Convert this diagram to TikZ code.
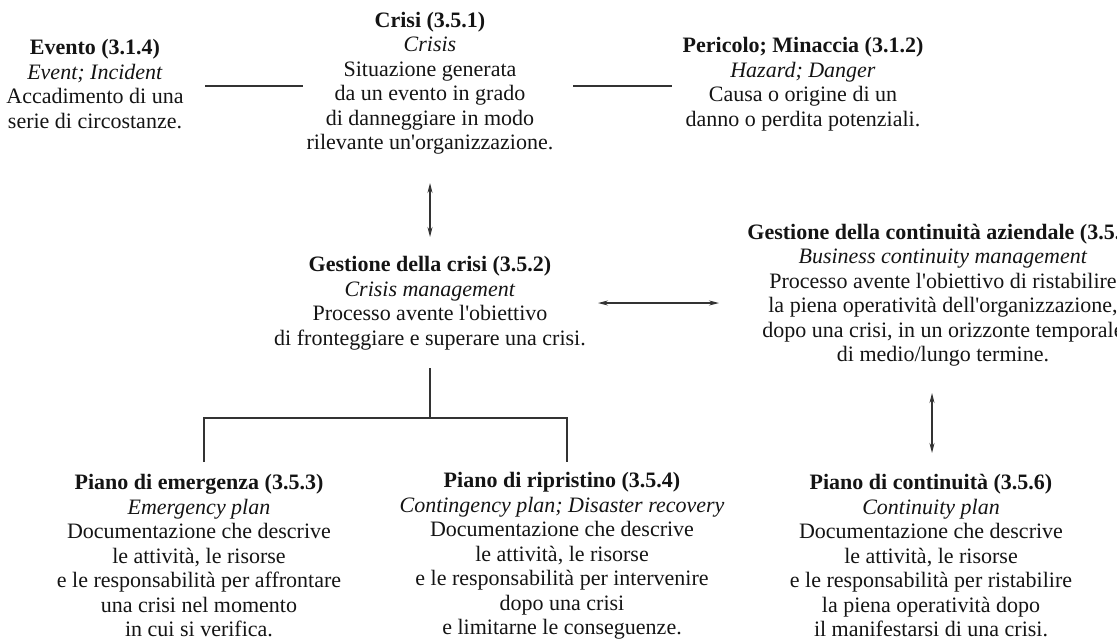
\documentclass[tikz,border=0pt]{standalone}
\usepackage{fontspec}
\setmainfont{Liberation Serif}[Ligatures=TeXOff]
\usetikzlibrary{arrows.meta}
\begin{document}
\begin{tikzpicture}[x=1pt,y=1pt,
  blk/.style={align=center, inner sep=0pt, font=\fontsize{22}{24.5}\selectfont, text=black!92},
  link/.style={draw=black!80, line width=1.2pt},
  both/.style={link, {Stealth[length=10pt,width=5pt]}-{Stealth[length=10pt,width=5pt]}}]
\useasboundingbox (0,0) rectangle (1117,-641);

% --- top row: definitions linked to the crisis
\node[blk] (evento) at (95,-84) {\textbf{Evento (3.1.4)}\\\textit{Event; Incident}\\Accadimento di una\\serie di circostanze.};
\node[blk] (crisi) at (430,-83) {\textbf{Crisi (3.5.1)}\\\textit{Crisis}\\Situazione generata\\da un evento in grado\\di danneggiare in modo\\rilevante un'organizzazione.};
\node[blk] (pericolo) at (803,-84) {\textbf{Pericolo; Minaccia (3.1.2)}\\\textit{Hazard; Danger}\\Causa o origine di un\\danno o perdita potenziali.};

% --- middle row: management processes
\node[blk] (gcrisi) at (430,-303) {\textbf{Gestione della crisi (3.5.2)}\\\textit{Crisis management}\\Processo avente l'obiettivo\\di fronteggiare e superare una crisi.};
\node[blk] (gcont) at (943,-295) {\textbf{Gestione della continuità aziendale (3.5.5)}\\\textit{Business continuity management}\\Processo avente l'obiettivo di ristabilire\\la piena operatività dell'organizzazione,\\dopo una crisi, in un orizzonte temporale\\di medio/lungo termine.};

% --- bottom row: plans
\node[blk] (pem) at (199,-556) {\textbf{Piano di emergenza (3.5.3)}\\\textit{Emergency plan}\\Documentazione che descrive\\le attività, le risorse\\e le responsabilità per affrontare\\una crisi nel momento\\in cui si verifica.};
\node[blk] (prip) at (562,-556) {\textbf{Piano di ripristino (3.5.4)}\\\textit{Contingency plan; Disaster recovery}\\Documentazione che descrive\\le attività, le risorse\\e le responsabilità per intervenire\\dopo una crisi\\e limitarne le conseguenze.};
\node[blk] (pcont) at (931,-556) {\textbf{Piano di continuità (3.5.6)}\\\textit{Continuity plan}\\Documentazione che descrive\\le attività, le risorse\\e le responsabilità per ristabilire\\la piena operatività dopo\\il manifestarsi di una crisi.};

% --- connector end points
\coordinate (evR) at (205,-86);
\coordinate (crL) at (303,-86);
\coordinate (crR) at (573,-86);
\coordinate (peL) at (672,-86);
\coordinate (crB) at (430,-183);
\coordinate (gcT) at (430,-237);
\coordinate (gcR) at (598,-303);
\coordinate (goL) at (719,-303);
\coordinate (goB) at (932,-393);
\coordinate (pcT) at (932,-453);
\coordinate (gcB) at (430,-368);
\coordinate (fork) at (430,-418);
\coordinate (peT) at (204,-462);
\coordinate (prT) at (567,-462);

% --- connectors
\draw[link] (evR) -- (crL);
\draw[link] (crR) -- (peL);
\draw[both] (crB) -- (gcT);
\draw[both] (gcR) -- (goL);
\draw[both] (goB) -- (pcT);
\draw[link] (gcB) -- (fork);
\draw[link] (peT) |- (fork) -| (prT);
\end{tikzpicture}
\end{document}
